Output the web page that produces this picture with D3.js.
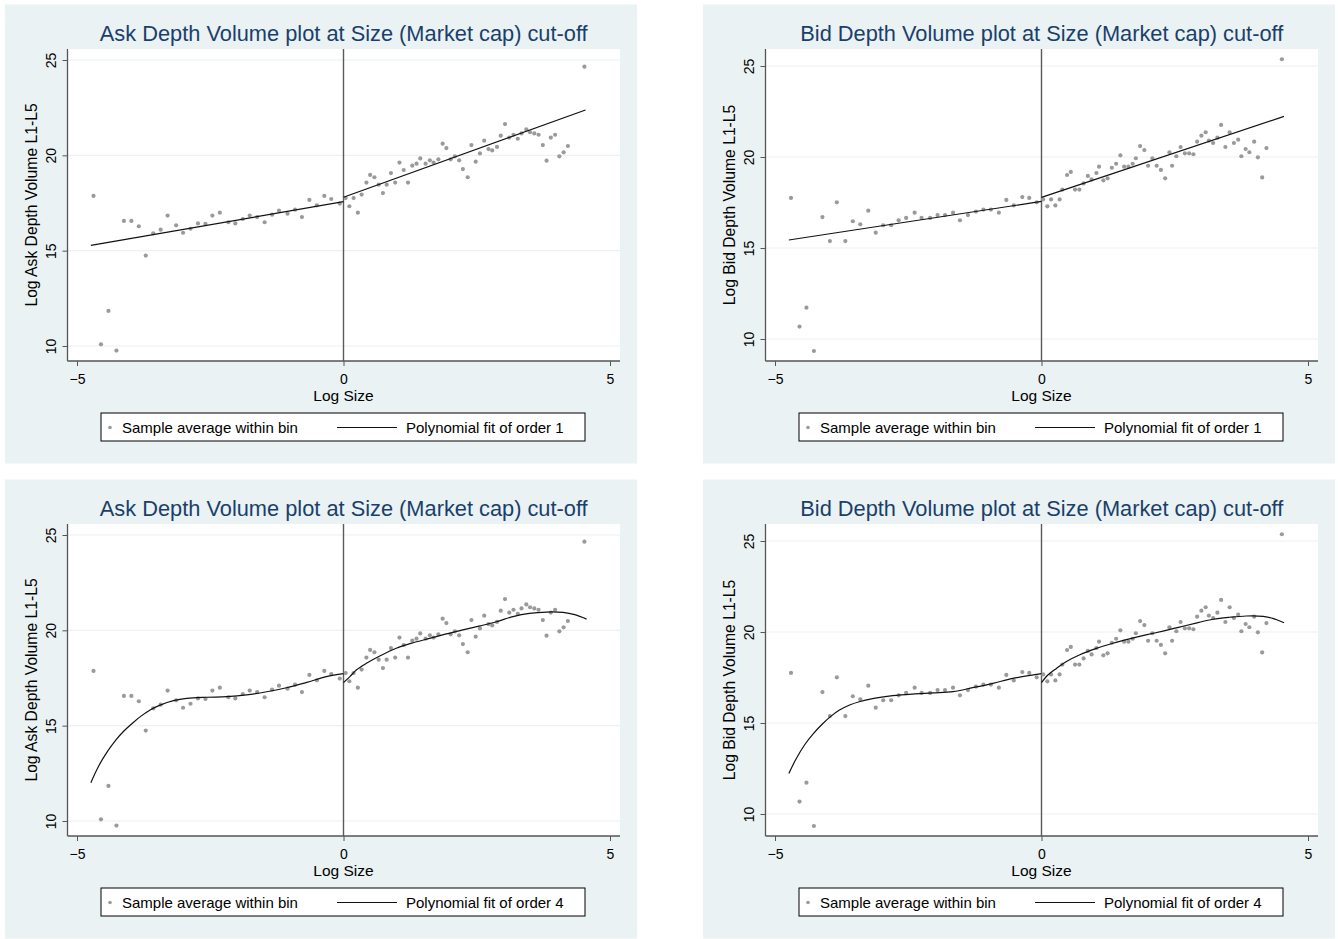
<!DOCTYPE html>
<html>
<head>
<meta charset="utf-8">
<script src="https://cdn.jsdelivr.net/npm/d3@7"></script>
<style>
  html, body { margin: 0; padding: 0; background: #ffffff; }
  svg { display: block; font-family: "Liberation Sans", Arial, sans-serif; }
</style>
</head>
<body>
<svg id="chart" width="1338" height="939"></svg>
<script>
// ---------------- DATA ----------------
const xTicks = [-5, 0, 5];
const yTicks = [10, 15, 20, 25];

// Ask: sample averages within bins
const askX = [-4.69,-4.55,-4.41,-4.26,-4.12,-3.98,-3.84,-3.71,-3.57,-3.43,-3.30,-3.14,-3.01,-2.87,-2.73,-2.59,-2.46,-2.32,-2.16,-2.03,-1.89,-1.76,-1.62,-1.48,-1.34,-1.21,-1.05,-0.91,-0.78,-0.64,-0.50,-0.36,-0.23,-0.07,
  0.04,0.11,0.19,0.27,0.34,0.43,0.50,0.58,0.66,0.74,0.81,0.89,0.97,1.05,1.13,1.21,1.29,1.37,1.44,1.54,1.62,1.69,1.78,1.86,1.93,2.01,2.09,2.17,2.24,2.33,2.40,2.48,2.56,2.64,2.72,2.79,2.88,2.95,3.03,3.11,3.19,3.27,3.34,3.43,3.50,3.58,3.66,3.74,3.81,3.89,3.97,4.05,4.13,4.21,4.52];
const askY = [17.87,10.09,11.84,9.76,16.56,16.56,16.28,14.74,15.91,16.10,16.84,16.33,15.94,16.15,16.43,16.40,16.84,16.99,16.49,16.43,16.66,16.84,16.76,16.49,16.89,17.10,16.94,17.15,16.76,17.66,17.38,17.87,17.71,17.47,
  17.76,17.33,17.76,16.99,17.94,18.57,18.97,18.85,18.46,18.02,18.46,19.07,18.57,19.62,19.23,18.57,19.46,19.56,19.84,19.56,19.74,19.62,19.79,20.61,20.38,19.79,19.95,19.74,19.28,18.85,20.54,19.67,20.10,20.77,20.33,20.26,20.44,21.03,21.64,20.93,21.08,20.87,21.15,21.36,21.21,21.15,21.08,20.54,19.72,20.93,21.08,19.95,20.16,20.49,24.65];

// Bid: sample averages within bins
const bidX = [-4.70,-4.54,-4.41,-4.27,-4.11,-3.97,-3.84,-3.68,-3.54,-3.40,-3.25,-3.11,-2.97,-2.82,-2.68,-2.54,-2.38,-2.25,-2.09,-1.95,-1.81,-1.66,-1.53,-1.38,-1.23,-1.09,-0.95,-0.80,-0.66,-0.52,-0.36,-0.23,-0.09,
  0.03,0.11,0.18,0.26,0.34,0.39,0.48,0.55,0.63,0.71,0.79,0.87,0.94,1.03,1.08,1.16,1.24,1.32,1.40,1.48,1.55,1.63,1.71,1.77,1.85,1.93,2.00,2.08,2.16,2.24,2.32,2.40,2.45,2.53,2.61,2.69,2.77,2.85,2.92,3.00,3.08,3.14,3.22,3.30,3.37,3.45,3.53,3.61,3.69,3.75,3.83,3.90,3.99,4.06,4.14,4.22,4.51];
const bidY = [17.75,10.68,11.72,9.34,16.70,15.38,17.51,15.38,16.47,16.30,17.05,15.84,16.25,16.25,16.52,16.65,16.94,16.65,16.65,16.81,16.81,16.94,16.52,16.81,17.00,17.11,17.11,16.94,17.64,17.34,17.80,17.75,17.51,
  17.67,17.29,17.67,17.34,17.67,18.21,19.01,19.18,18.21,18.21,18.55,18.96,18.77,19.12,19.47,18.72,18.83,19.41,19.63,20.09,19.47,19.47,19.63,19.93,20.60,20.38,19.52,19.93,19.52,19.29,18.83,20.26,19.52,20.04,20.55,20.20,20.20,20.15,20.84,21.17,21.36,20.90,20.77,21.06,21.76,20.55,21.36,20.77,20.95,20.04,20.44,20.26,20.84,19.98,18.88,20.49,25.37];

// Fitted curves: [x, y]
const askFit1Left  = [[-4.74,15.28],[0,17.57]];
const askFit1Right = [[0,17.80],[4.54,22.38]];
const bidFit1Left  = [[-4.74,15.44],[0,17.56]];
const bidFit1Right = [[0,17.78],[4.55,22.23]];

const askFit4Left = [[-4.74,12.01],[-4.60,12.85],[-4.44,13.60],[-4.28,14.22],[-4.12,14.72],[-3.96,15.13],[-3.80,15.50],[-3.62,15.84],[-3.44,16.08],[-3.19,16.31],[-2.94,16.43],[-2.57,16.49],[-2.19,16.52],[-1.82,16.61],[-1.44,16.78],[-1.07,16.99],[-0.69,17.27],[-0.32,17.57],[0,17.73]];
const askFit4Right = [[0,17.26],[0.12,17.57],[0.24,17.92],[0.43,18.27],[0.68,18.65],[0.99,19.06],[1.31,19.35],[1.62,19.58],[1.93,19.81],[2.24,20.02],[2.56,20.23],[2.87,20.45],[3.18,20.72],[3.49,20.89],[3.81,20.96],[4.12,20.94],[4.34,20.82],[4.56,20.59]];
const bidFit4Left = [[-4.74,12.23],[-4.60,13.05],[-4.44,13.82],[-4.28,14.42],[-4.12,14.92],[-3.96,15.35],[-3.79,15.71],[-3.60,15.99],[-3.42,16.17],[-3.17,16.34],[-2.79,16.50],[-2.42,16.59],[-2.04,16.65],[-1.66,16.72],[-1.29,16.94],[-0.91,17.18],[-0.54,17.45],[0,17.71]];
const bidFit4Right = [[0,17.22],[0.12,17.64],[0.28,18.00],[0.46,18.37],[0.71,18.74],[1.03,19.10],[1.34,19.38],[1.65,19.62],[1.96,19.84],[2.28,20.05],[2.59,20.27],[2.90,20.49],[3.22,20.70],[3.53,20.81],[3.84,20.88],[4.16,20.86],[4.34,20.75],[4.55,20.51]];

const panels = [
  { title: "Ask Depth Volume plot at Size (Market cap) cut-off", ylab: "Log Ask Depth Volume L1-L5", xs: askX, ys: askY, fits: [askFit1Left, askFit1Right], order: 1, col: 0, row: 0, kind: "ask" },
  { title: "Bid Depth Volume plot at Size (Market cap) cut-off", ylab: "Log Bid Depth Volume L1-L5", xs: bidX, ys: bidY, fits: [bidFit1Left, bidFit1Right], order: 1, col: 1, row: 0, kind: "bid" },
  { title: "Ask Depth Volume plot at Size (Market cap) cut-off", ylab: "Log Ask Depth Volume L1-L5", xs: askX, ys: askY, fits: [askFit4Left, askFit4Right], order: 4, col: 0, row: 1, kind: "ask" },
  { title: "Bid Depth Volume plot at Size (Market cap) cut-off", ylab: "Log Bid Depth Volume L1-L5", xs: bidX, ys: bidY, fits: [bidFit4Left, bidFit4Right], order: 4, col: 1, row: 1, kind: "bid" }
];

// ---------------- DRAW ----------------
const svg = d3.select("#chart");
const BG = "#eaf2f3";

panels.forEach(p => {
  const ox = p.col === 0 ? 0 : 698;
  const oy = p.row === 0 ? 0 : 475;
  const g = svg.append("g").attr("transform", `translate(${ox},${oy})`);

  // panel background
  g.append("rect").attr("x", 5).attr("y", 4.5).attr("width", 632).attr("height", 459).attr("fill", BG);

  const L = 67.5, R = 620, T = 49, B = 361;
  const x = d3.scaleLinear().domain([-5, 5]).range([L + 9.5, L + 542.5]);
  const y = p.kind === "ask"
    ? d3.scaleLinear().domain([10, 25]).range([T + 297, T + 11])
    : d3.scaleLinear().domain([10, 25]).range([T + 290, T + 17]);

  // plot region
  g.append("rect").attr("x", L).attr("y", T).attr("width", R - L).attr("height", B - T).attr("fill", "#ffffff");

  // grid lines
  g.append("g").selectAll("line").data(yTicks).join("line")
    .attr("x1", L).attr("x2", R)
    .attr("y1", d => y(d)).attr("y2", d => y(d))
    .attr("stroke", BG).attr("stroke-width", 1.2);

  // y axis
  const yAxis = d3.axisLeft(y).tickValues(yTicks).tickSize(5).tickPadding(4).tickFormat(d3.format("d"));
  const ya = g.append("g").attr("transform", `translate(${L},0)`).call(yAxis);
  ya.select(".domain").attr("d", `M0,${T}V${B}`).attr("stroke", "#555").attr("stroke-width", 1.3);
  ya.selectAll(".tick line").attr("stroke", "#555");
  ya.selectAll(".tick text")
    .attr("font-size", 14).attr("fill", "#000").attr("font-family", "Liberation Sans, Arial, sans-serif")
    .attr("text-anchor", "middle").attr("x", null).attr("dy", null)
    .attr("transform", "translate(-15,0) rotate(-90)")
    .attr("dominant-baseline", "middle");

  // x axis
  const xAxis = d3.axisBottom(x).tickValues(xTicks).tickSize(5).tickPadding(5).tickFormat(d3.format("d"));
  const xa = g.append("g").attr("transform", `translate(0,${B})`).call(xAxis);
  xa.select(".domain").attr("d", `M${L},0H${R}`).attr("stroke", "#555").attr("stroke-width", 1.3);
  xa.selectAll(".tick line").attr("stroke", "#555");
  xa.selectAll(".tick text").attr("font-size", 14).attr("fill", "#000")
    .attr("font-family", "Liberation Sans, Arial, sans-serif").attr("dy", "0.9em");

  // cut-off line at 0
  g.append("line").attr("x1", x(0)).attr("x2", x(0)).attr("y1", T).attr("y2", B)
    .attr("stroke", "#5a5a5a").attr("stroke-width", 1.4);

  // points
  g.append("g").selectAll("circle").data(p.xs.map((d, i) => [d, p.ys[i]])).join("circle")
    .attr("cx", d => x(d[0])).attr("cy", d => y(d[1])).attr("r", 2.1)
    .attr("fill", "#9a9a9a");

  // fits
  const line = d3.line().x(d => x(d[0])).y(d => y(d[1])).curve(p.order === 4 ? d3.curveCatmullRom.alpha(0.5) : d3.curveLinear);
  p.fits.forEach(f => {
    g.append("path").attr("d", line(f)).attr("fill", "none").attr("stroke", "#111").attr("stroke-width", 1.2);
  });

  // title
  g.append("text").attr("x", (L + R) / 2).attr("y", 40.5).attr("text-anchor", "middle")
    .attr("font-size", 21.8).attr("fill", "#1a3f6b").text(p.title);

  // y title
  g.append("text").attr("transform", `translate(37,${(T + B) / 2}) rotate(-90)`)
    .attr("text-anchor", "middle").attr("font-size", 15.7).attr("fill", "#000").text(p.ylab);

  // x title
  g.append("text").attr("x", x(0)).attr("y", 401).attr("text-anchor", "middle")
    .attr("font-size", 15.5).attr("fill", "#000").text("Log Size");

  // legend
  const lg = g.append("g");
  lg.append("rect").attr("x", 101).attr("y", 413).attr("width", 484).attr("height", 28)
    .attr("fill", "#fff").attr("stroke", "#000").attr("stroke-width", 1);
  lg.append("circle").attr("cx", 110).attr("cy", 427.5).attr("r", 1.8).attr("fill", "#9a9a9a");
  lg.append("text").attr("x", 122).attr("y", 433).attr("font-size", 15).attr("fill", "#000").text("Sample average within bin");
  lg.append("line").attr("x1", 337).attr("x2", 397).attr("y1", 427.5).attr("y2", 427.5).attr("stroke", "#111").attr("stroke-width", 1.2);
  lg.append("text").attr("x", 406).attr("y", 433).attr("font-size", 15).attr("fill", "#000").text(`Polynomial fit of order ${p.order}`);
});
</script>
</body>
</html>
